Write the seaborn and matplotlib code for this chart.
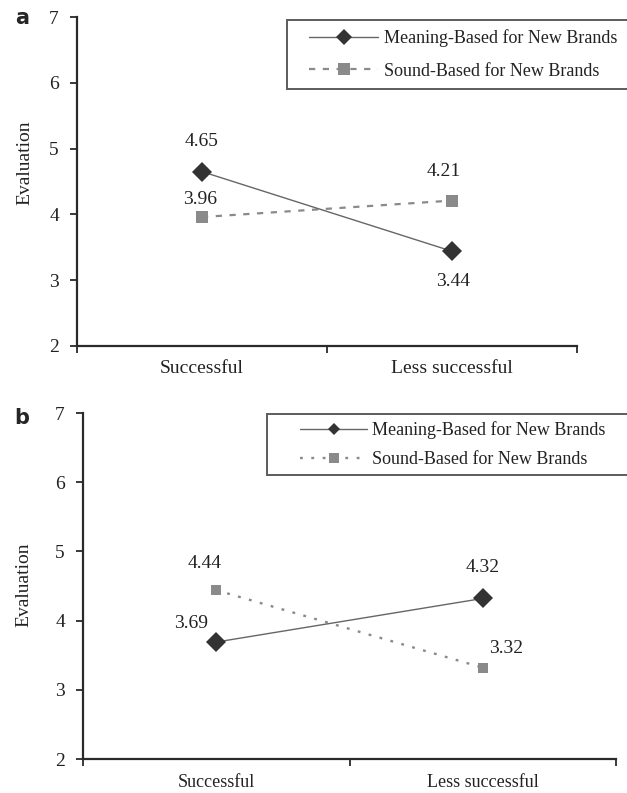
import matplotlib
matplotlib.use("Agg")
import matplotlib.pyplot as plt
import seaborn as sns
import pandas as pd
from matplotlib.lines import Line2D
from matplotlib.legend_handler import HandlerLine2D

categories = ["Successful", "Less successful"]
series_names = ["Meaning-Based for New Brands", "Sound-Based for New Brands"]
a_meaning = [4.65, 3.44]
a_sound = [3.96, 4.21]
b_meaning = [3.69, 4.32]
b_sound = [4.44, 3.32]
yticks = [2, 3, 4, 5, 6, 7]

sns.set_style("white")
plt.rcParams['font.family'] = ['Liberation Serif', 'DejaVu Serif']

W, H = 627, 793
fig = plt.figure(figsize=(W / 100, H / 100), dpi=100)

def frac(l, r, t, b):
    return [l / W, 1 - b / H, (r - l) / W, (b - t) / H]

MEAN_LINE = "#666666"
MEAN_MK = "#333333"
SOUND_CLR = "#8a8a8a"
AXC = "#2a2a2a"

def panel(rect, meaning, sound, sound_ls, sound_lw, sq_size, tick_fs, xpad_pt, ann,
          legend_rect, leg_opts, letter, letter_xy, ylab_xy):
    ax = fig.add_axes(rect)
    pos = [0, 1]
    dfm = pd.DataFrame({"x": pos, "y": meaning})
    dfs = pd.DataFrame({"x": pos, "y": sound})
    sns.lineplot(data=dfs, x="x", y="y", ax=ax, color=SOUND_CLR, linestyle=sound_ls,
                 linewidth=sound_lw, marker="s", markersize=sq_size, markeredgewidth=0,
                 markerfacecolor=SOUND_CLR, zorder=3)
    sns.lineplot(data=dfm, x="x", y="y", ax=ax, color=MEAN_LINE, linestyle="-",
                 linewidth=1.0, marker="D", markersize=10, markeredgewidth=0,
                 markerfacecolor=MEAN_MK, zorder=4)
    ax.set_xlim(-0.5, 1.5)
    ax.set_ylim(2, 7)
    ax.set_yticks(yticks)
    ax.set_yticklabels([str(t) for t in yticks], fontsize=14, color="#222222")
    ax.set_xticks([-0.5, 0.5, 1.5])
    ax.set_xticklabels(["", "", ""])
    ax.set_xticks(pos, minor=True)
    ax.set_xticklabels(categories, minor=True, fontsize=tick_fs, color="#222222")
    ax.tick_params(axis="x", which="minor", length=0, pad=xpad_pt)
    ax.tick_params(axis="both", which="major", direction="out", length=5, width=1.3,
                   color=AXC, left=True, bottom=True)
    ax.tick_params(axis="y", pad=8)
    for s in ["top", "right"]:
        ax.spines[s].set_visible(False)
    for s in ["left", "bottom"]:
        ax.spines[s].set_color(AXC)
        ax.spines[s].set_linewidth(1.6)
    ax.set_xlabel("")
    ax.set_ylabel("")
    ax.grid(False)
    vals = {("m", 0): meaning[0], ("m", 1): meaning[1], ("s", 0): sound[0], ("s", 1): sound[1]}
    for (key, i), (dx, dy) in ann.items():
        v = vals[(key, i)]
        ax.annotate(f"{v:.2f}", (i, v), xytext=(dx * 0.72, -dy * 0.72), textcoords="offset points",
                    ha="center", va="center", fontsize=14, color="#222222")
    handles = [
        Line2D([], [], color=MEAN_LINE, lw=1.0, marker="D", markersize=leg_opts["ms"],
               markerfacecolor=MEAN_MK, markeredgewidth=0),
        Line2D([], [], color=SOUND_CLR, lw=sound_lw, ls=sound_ls, marker="s",
               markersize=leg_opts["ms"], markerfacecolor=SOUND_CLR, markeredgewidth=0),
    ]
    l, r, t, b = legend_rect
    leg = fig.legend(handles, series_names, loc="upper left",
                     bbox_to_anchor=(l / W, 1 - t / H, (r - l) / W, 0.001), mode="expand",
                     fontsize=13, frameon=True, fancybox=False,
                     handlelength=leg_opts["hl"], handletextpad=leg_opts["htp"],
                     labelspacing=leg_opts["ls"], borderpad=leg_opts["bp"], borderaxespad=0,
                     handler_map={Line2D: HandlerLine2D(xpad=leg_opts["xpad"])})
    leg.get_frame().set_edgecolor("#333333")
    leg.get_frame().set_linewidth(1.4)
    for txt in leg.get_texts():
        txt.set_color("#222222")
    fig.text(letter_xy[0] / W, 1 - letter_xy[1] / H, letter, family="DejaVu Sans",
             fontweight="bold", fontsize=15, ha="center", va="center")
    fig.text(ylab_xy[0] / W, 1 - ylab_xy[1] / H, "Evaluation", rotation=90,
             fontsize=14, ha="center", va="center", color="#222222")
    return ax

# Panel a
panel(frac(77, 577, 17, 346), a_meaning, a_sound,
      sound_ls=(0, (2.8, 3.4)), sound_lw=1.6, sq_size=8.5, tick_fs=14, xpad_pt=10,
      ann={("m", 0): (0, -30), ("s", 0): (-2, -18), ("s", 1): (-8, -29), ("m", 1): (1, 30)},
      legend_rect=(287, 660, 21, 90),
      leg_opts=dict(ms=8, hl=4.55, htp=0.33, ls=0.86, bp=0.5, xpad=0.72),
      letter="a", letter_xy=(22, 18), ylab_xy=(25, 163))

# Panel b
panel(frac(83, 616, 413, 759), b_meaning, b_sound,
      sound_ls=(0, (1.2, 3.6)), sound_lw=1.7, sq_size=6.5, tick_fs=13, xpad_pt=11,
      ann={("s", 0): (-12, -27), ("m", 0): (-25, -19), ("m", 1): (0, -31), ("s", 1): (23, -19)},
      legend_rect=(267, 660, 415, 476),
      leg_opts=dict(ms=6.5, hl=5.15, htp=0.28, ls=0.64, bp=0.4, xpad=1.44),
      letter="b", letter_xy=(22, 418), ylab_xy=(24, 585))

fig.savefig("out.png", dpi=100)
